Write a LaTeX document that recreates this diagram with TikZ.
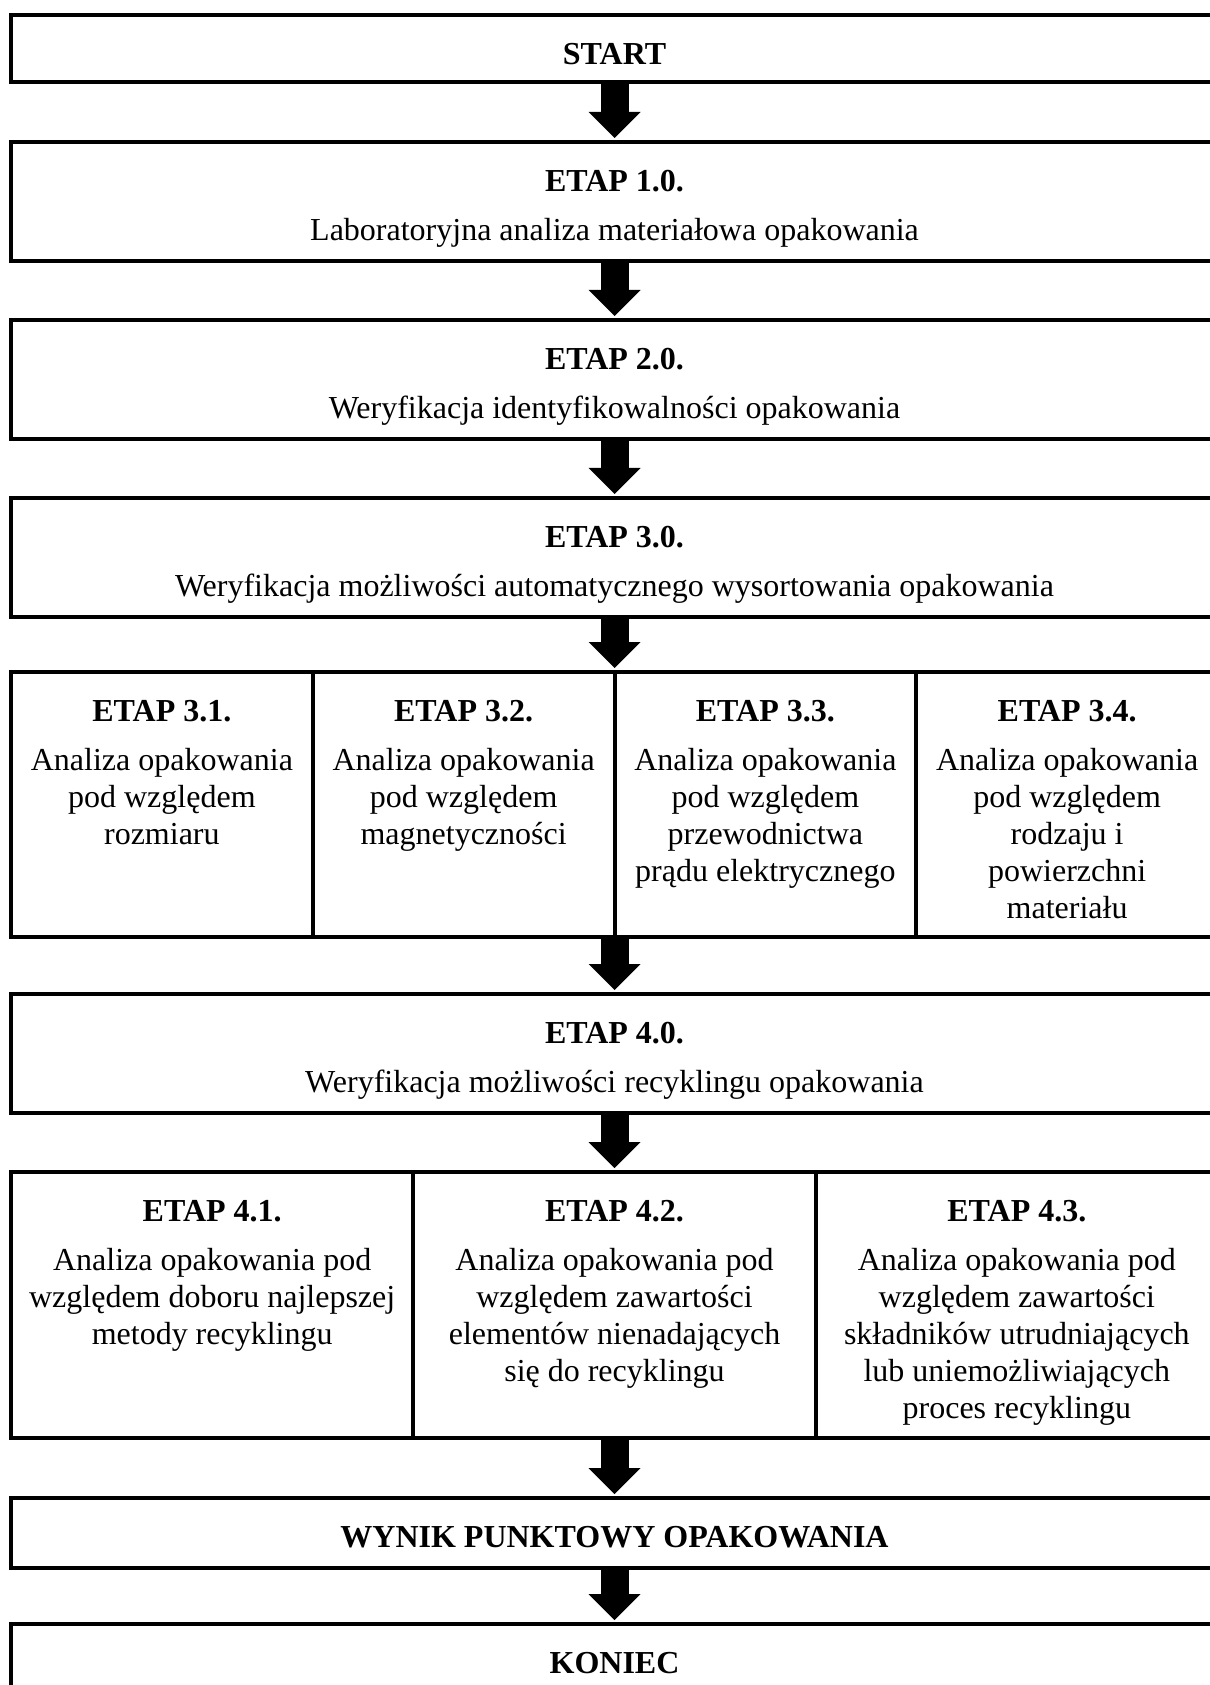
\documentclass[tikz,border=0pt]{standalone}
\usepackage{fontspec}
\setmainfont{Liberation Serif}
\usetikzlibrary{arrows.meta}
\tikzset{>={Triangle[length=9.75pt,width=19.5pt,line width=0pt 0 0]}}
\tikzset{
  stage/.style={draw, line width=1.5pt, inner sep=0pt},
  stagetext/.style={anchor=north, inner sep=0pt, align=center,
    font=\fontsize{12}{13.8}\selectfont},
  flow/.style={->, line width=10.5pt, shorten >=0.75pt}
}

\begin{document}
\begin{tikzpicture}[x=0.375pt,y=-0.375pt]

  \newcommand\PX{0.375pt}
  \newcommand\WW{1207*\PX}
  \newcommand\TOP{-25.2*\PX}

  \useasboundingbox (0,0) rectangle (1209,1685);

  %% main boxes
  \node[stage, minimum width=\WW, minimum height=67*\PX] (start) at (614.5,48.5) {};
  \node[stage, minimum width=\WW, minimum height=119*\PX] (e1) at (614.5,201.5) {};
  \node[stage, minimum width=\WW, minimum height=119*\PX] (e2) at (614.5,379.5) {};
  \node[stage, minimum width=\WW, minimum height=119*\PX] (e3) at (614.5,557.5) {};

  %% etap 3.x row
  \node[stage, minimum width=301.75*\PX, minimum height=265*\PX] (e31) at (161.875,804.5) {};
  \node[stage, minimum width=301.75*\PX, minimum height=265*\PX] (e32) at (463.625,804.5) {};
  \node[stage, minimum width=301.75*\PX, minimum height=265*\PX] (e33) at (765.375,804.5) {};
  \node[stage, minimum width=301.75*\PX, minimum height=265*\PX] (e34) at (1067.125,804.5) {};

  \node[stage, minimum width=\WW, minimum height=119*\PX] (e4) at (614.5,1053.5) {};

  %% etap 4.x row
  \node[stage, minimum width=402.33*\PX, minimum height=266*\PX] (e41) at (212.17,1305) {};
  \node[stage, minimum width=402.33*\PX, minimum height=266*\PX] (e42) at (614.5,1305) {};
  \node[stage, minimum width=402.33*\PX, minimum height=266*\PX] (e43) at (1016.83,1305) {};

  \node[stage, minimum width=\WW, minimum height=70*\PX] (wynik) at (614.5,1533) {};
  \node[stage, minimum width=\WW, minimum height=106*\PX] (koniec) at (614.5,1677) {};

  %% texts
  \node[stagetext] (tstart) at ([yshift=\TOP]start.north) {\strut\textbf{START}};
  \node[stagetext] (t1) at ([yshift=\TOP]e1.north)
    {\strut\textbf{ETAP 1.0.}\\[4.7pt] Laboratoryjna analiza materiałowa opakowania};
  \node[stagetext] (t2) at ([yshift=\TOP]e2.north)
    {\strut\textbf{ETAP 2.0.}\\[4.7pt] Weryfikacja identyfikowalności opakowania};
  \node[stagetext] (t3) at ([yshift=\TOP]e3.north)
    {\strut\textbf{ETAP 3.0.}\\[4.7pt] Weryfikacja możliwości automatycznego wysortowania opakowania};

  \node[stagetext] (t31) at ([yshift=\TOP]e31.north)
    {\strut\textbf{ETAP 3.1.}\\[4.7pt] Analiza opakowania\\ pod względem\\ rozmiaru};
  \node[stagetext] (t32) at ([yshift=\TOP]e32.north)
    {\strut\textbf{ETAP 3.2.}\\[4.7pt] Analiza opakowania\\ pod względem\\ magnetyczności};
  \node[stagetext] (t33) at ([yshift=\TOP]e33.north)
    {\strut\textbf{ETAP 3.3.}\\[4.7pt] Analiza opakowania\\ pod względem\\ przewodnictwa\\ prądu elektrycznego};
  \node[stagetext] (t34) at ([yshift=\TOP]e34.north)
    {\strut\textbf{ETAP 3.4.}\\[4.7pt] Analiza opakowania\\ pod względem\\ rodzaju i\\ powierzchni\\ materiału};

  \node[stagetext] (t4) at ([yshift=\TOP]e4.north)
    {\strut\textbf{ETAP 4.0.}\\[4.7pt] Weryfikacja możliwości recyklingu opakowania};

  \node[stagetext] (t41) at ([yshift=\TOP]e41.north)
    {\strut\textbf{ETAP 4.1.}\\[4.7pt] Analiza opakowania pod\\ względem doboru najlepszej\\ metody recyklingu};
  \node[stagetext] (t42) at ([yshift=\TOP]e42.north)
    {\strut\textbf{ETAP 4.2.}\\[4.7pt] Analiza opakowania pod\\ względem zawartości\\ elementów nienadających\\ się do recyklingu};
  \node[stagetext] (t43) at ([yshift=\TOP]e43.north)
    {\strut\textbf{ETAP 4.3.}\\[4.7pt] Analiza opakowania pod\\ względem zawartości\\ składników utrudniających\\ lub uniemożliwiających\\ proces recyklingu};

  \node[stagetext] (twynik) at ([yshift=\TOP]wynik.north) {\strut\textbf{WYNIK PUNKTOWY OPAKOWANIA}};
  \node[stagetext] (tkoniec) at ([yshift=\TOP]koniec.north) {\strut\textbf{KONIEC}};

  %% arrows
  \draw[flow] (start.south) -- (e1.north); %% start -> 1.0
  \draw[flow] (e1.south) -- (e2.north);
  \draw[flow] (e2.south) -- (e3.north);
  \draw[flow] (e3.south) -- (e3.south |- e32.north); %% 3.0 -> 3.x
  \draw[flow] (e4.north |- e32.south) -- (e4.north); %% 3.x -> 4.0
  \draw[flow] (e4.south) -- (e42.north);
  \draw[flow] (e42.south) -- (wynik.north);
  \draw[flow] (wynik.south) -- (koniec.north);

\end{tikzpicture}
\end{document}
